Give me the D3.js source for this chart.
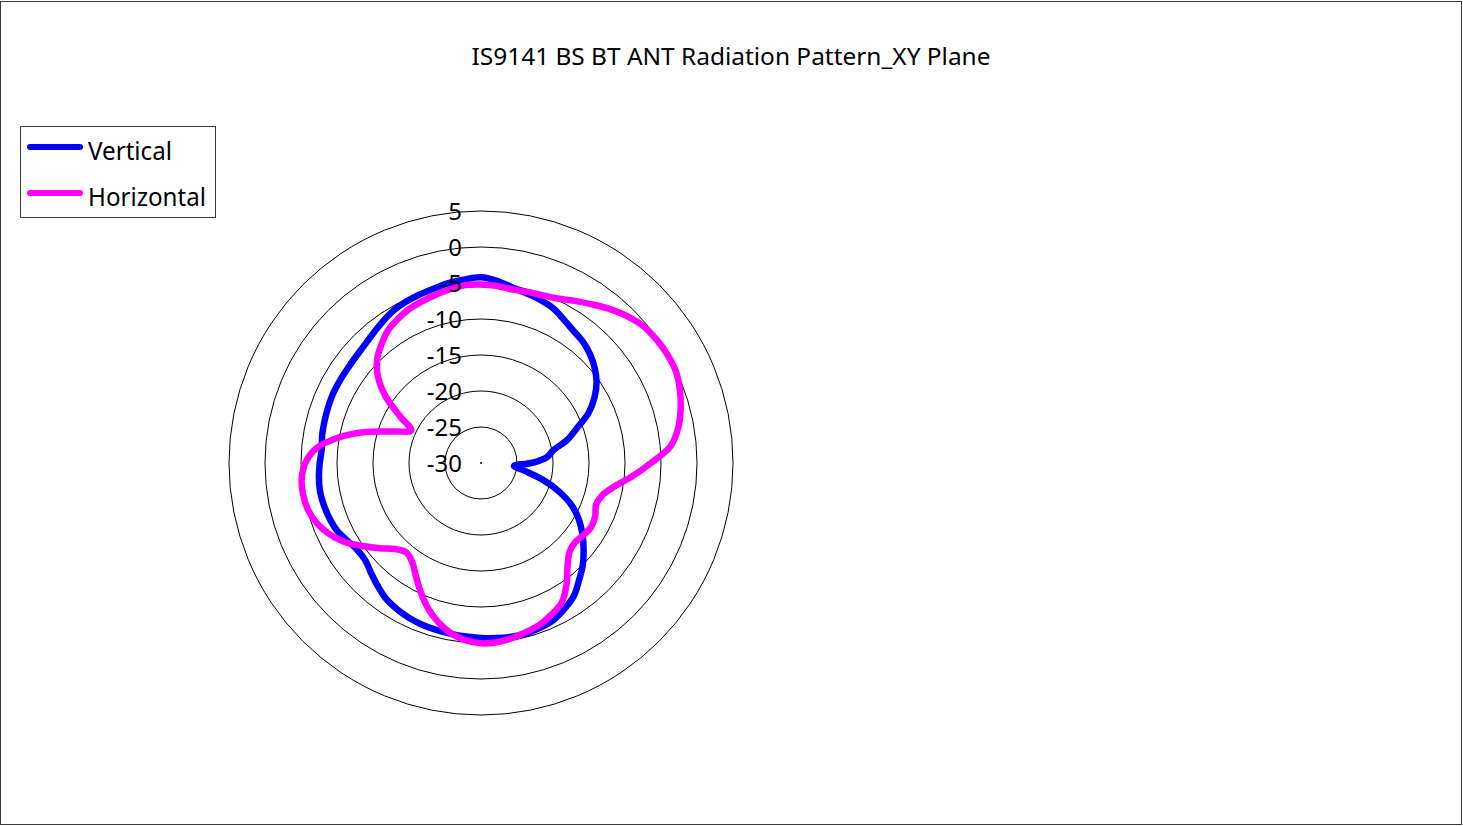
<!DOCTYPE html>
<html><head><meta charset="utf-8">
<script src="https://cdn.jsdelivr.net/npm/d3@7/dist/d3.min.js"></script>
<style>
body{margin:0;background:#fff;}
svg{display:block;font-family:"Noto Sans","Open Sans",sans-serif;}
</style>
</head><body>
<svg id="chart" width="1463" height="826"></svg>
<script>
// Data
const title = "IS9141 BS BT ANT Radiation Pattern_XY Plane";
const seriesNames = ["Vertical", "Horizontal"];
const seriesColors = ["#0000FF", "#FF00FF"];
const tickLabels = [5, 0, -5, -10, -15, -20, -25, -30];
const anglesDeg = [0,5,10,15,20,25,30,35,40,45,50,55,60,65,70,75,80,85,90,95,100,105,110,115,120,125,130,135,140,145,150,155,160,165,170,175,180,185,190,195,200,205,210,215,220,225,230,235,240,245,250,255,260,265,270,275,280,285,290,295,300,305,310,315,320,325,330,335,340,345,350,355];
const vertical = [-4.2,-4.6,-5.2,-5.6,-5.9,-6.3,-7.0,-7.6,-8.0,-8.6,-9.4,-10.4,-11.8,-13.5,-15.8,-17.6,-19.8,-20.8,-23.0,-25.4,-23.9,-21.2,-18.5,-16.1,-14.3,-12.8,-11.4,-10.0,-8.8,-7.5,-6.7,-6.0,-5.7,-5.5,-5.5,-5.6,-5.7,-5.8,-5.9,-6.0,-6.1,-6.3,-6.6,-7.0,-7.7,-8.4,-9.0,-9.0,-8.5,-7.9,-7.6,-7.4,-7.3,-7.4,-7.6,-7.8,-7.6,-7.5,-7.4,-7.3,-7.3,-7.3,-7.2,-7.0,-6.6,-6.1,-5.6,-5.3,-5.1,-4.9,-4.6,-4.4];
const horizontal = [-5.2,-5.3,-5.5,-5.4,-5.2,-4.8,-4.0,-3.1,-2.1,-1.2,-0.5,-0.2,-0.05,-0.1,-0.6,-1.3,-2.2,-3.6,-6.4,-8.9,-11.2,-12.6,-13.0,-12.5,-12.3,-12.6,-12.9,-12.6,-11.3,-9.3,-7.6,-6.8,-6.1,-5.7,-5.3,-5.0,-4.95,-5.3,-6.0,-7.1,-8.5,-10.2,-11.9,-13.3,-13.8,-13.1,-11.6,-9.9,-8.1,-6.7,-5.7,-5.1,-4.9,-5.0,-5.6,-7.0,-9.8,-13.4,-17.2,-19.3,-17.0,-13.8,-11.3,-9.6,-8.5,-7.5,-6.9,-6.4,-6.1,-5.8,-5.5,-5.2];
const seriesValues = [vertical, horizontal];

const svg = d3.select("#chart");
const W = 1463, H = 826;
const cx = 481, cy = 463, R = 252;

// Outer chart border
svg.append("rect").attr("x", 0.5).attr("y", 1.5).attr("width", W - 2).attr("height", H - 3)
  .attr("fill", "#fff").attr("stroke", "#3a3a3a").attr("stroke-width", 1);

// Title
svg.append("text").attr("x", 731).attr("y", 65).attr("text-anchor", "middle")
  .attr("font-size", 23).attr("fill", "#000").attr("textLength", 519).attr("lengthAdjust", "spacingAndGlyphs")
  .text(title);

const rScale = d3.scaleLinear().domain([-30, 5]).range([0, R]);
const aScale = d3.scaleLinear().domain([0, 360]).range([0, 2 * Math.PI]);

const g = svg.append("g").attr("transform", `translate(${cx},${cy})`);

// Grid rings
g.selectAll("circle.ring").data(tickLabels.filter(v => v > -30)).enter().append("circle")
  .attr("class", "ring").attr("r", d => rScale(d)).attr("fill", "none")
  .attr("stroke", "#000").attr("stroke-width", 1);
g.append("circle").attr("r", 1).attr("fill", "#000");

// Series
const line = d3.lineRadial()
  .angle((d, i) => aScale(anglesDeg[i]))
  .radius(d => rScale(d))
  .curve(d3.curveCatmullRomClosed.alpha(0.5));

seriesValues.forEach((vals, k) => {
  g.append("path").datum(vals).attr("d", line).attr("fill", "none")
    .attr("stroke", seriesColors[k]).attr("stroke-width", 6.5)
    .attr("stroke-linejoin", "round").attr("stroke-linecap", "round");
});

// Axis labels
g.selectAll("text.tick").data(tickLabels).enter().append("text")
  .attr("class", "tick").attr("x", -19).attr("y", d => -rScale(d) + 8.5)
  .attr("text-anchor", "end").attr("font-size", 24).attr("fill", "#000")
  .text(d => d);

// Legend
const lg = svg.append("g");
lg.append("rect").attr("x", 20.5).attr("y", 126.5).attr("width", 195).attr("height", 91)
  .attr("fill", "#fff").attr("stroke", "#3a3a3a").attr("stroke-width", 1);
const lw = [84, 118];
seriesNames.forEach((n, k) => {
  const y = 147 + k * 46;
  lg.append("line").attr("x1", 30).attr("x2", 80).attr("y1", y).attr("y2", y)
    .attr("stroke", seriesColors[k]).attr("stroke-width", 6).attr("stroke-linecap", "round");
  lg.append("text").attr("x", 88).attr("y", y + 13).attr("font-size", 25).attr("fill", "#000")
    .attr("textLength", lw[k]).attr("lengthAdjust", "spacingAndGlyphs").text(n);
});
</script>
</body></html>
